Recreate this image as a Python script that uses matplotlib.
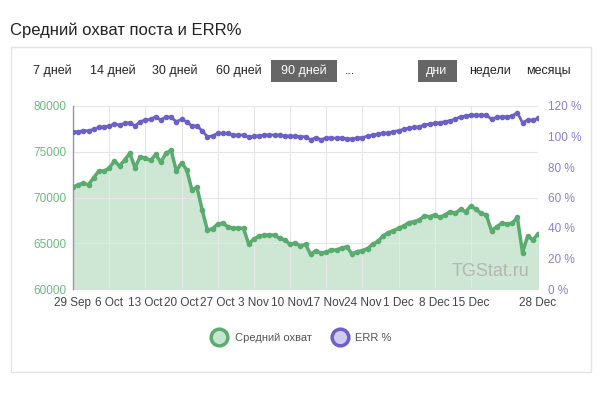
import matplotlib.pyplot as plt
import numpy as np
from matplotlib.patches import Rectangle
from matplotlib.lines import Line2D

plt.rcParams['font.family'] = ['Liberation Sans', 'DejaVu Sans']

# daily values, 29 Sep .. 28 Dec
reach = [71100, 71400, 71550, 71400, 72170, 72900, 72900, 73190, 74000, 73440,
         74100, 74830, 73260, 74460, 74300, 74050, 74700, 73850, 74850, 75150,
         72900, 73780, 73040, 70860, 71100, 68630, 66450, 66580, 67100, 67190,
         66800, 66620, 66670, 66620, 64920, 65470, 65750, 65900, 65900, 65900,
         65520, 65380, 64880, 65030, 64700, 64880, 63780, 64200, 63920, 64020,
         64270, 64270, 64480, 64620, 63840, 64080, 64200, 64420, 64880, 65200,
         65800, 66150, 66370, 66630, 66890, 67250, 67360, 67540, 67980, 67910,
         68090, 67830, 68090, 68450, 68270, 68700, 68450, 69070, 68710, 68270,
         68090, 66370, 66810, 67180, 67100, 67180, 67830, 63970, 65790, 65360,
         66010]
err = [103.2, 103.2, 103.8, 103.8, 104.7, 106.0, 106.4, 106.9, 108.2, 107.5,
       108.6, 109.1, 106.9, 109.7, 110.8, 111.3, 113.0, 110.8, 113.0, 112.6,
       109.7, 111.3, 109.7, 106.9, 106.9, 103.8, 99.9, 100.3, 102.1, 102.1,
       102.1, 101.0, 101.0, 101.0, 99.5, 100.3, 100.3, 101.0, 101.0, 101.0,
       101.0, 100.3, 100.3, 100.3, 100.0, 99.8, 97.9, 99.3, 98.0, 99.0,
       99.2, 98.8, 99.2, 98.5, 98.3, 99.2, 99.2, 100.3, 101.0, 101.5,
       102.1, 102.3, 103.2, 103.8, 104.7, 105.4, 106.0, 106.4, 107.5, 108.2,
       108.6, 109.1, 109.7, 110.4, 111.3, 113.0, 113.4, 114.1, 114.1, 114.1,
       114.1, 111.3, 112.6, 113.0, 113.0, 113.5, 115.6, 109.1, 110.8, 110.8,
       111.9]
tick_days = [0, 7, 14, 21, 28, 35, 42, 49, 56, 63, 70, 77, 90]
tick_labels = ['29 Sep', '6 Oct', '13 Oct', '20 Oct', '27 Oct', '3 Nov', '10 Nov',
               '17 Nov', '24 Nov', '1 Dec', '8 Dec', '15 Dec', '28 Dec']
periods = ['7 дней', '14 дней', '30 дней', '60 дней', '90 дней', '...']
scales = ['дни', 'недели', 'месяцы']

green = '#5aab6e'
purple = '#6b5fc9'
days = np.arange(len(reach))

fig = plt.figure(figsize=(6, 4), dpi=100)
fig.patch.set_facecolor('white')

# card frame (behind everything)
fig.patches.append(Rectangle((11/600, 1-372/400), 580/600, 325/400, transform=fig.transFigure,
                             facecolor='white', edgecolor='#e3e3e3', lw=1, zorder=-10))
fig.text(10/600, 1-30/400, 'Средний охват поста и ERR%', fontsize=12, color='#222222', va='center')

# period buttons
px = [33, 90, 152, 216, 281, 345]
for x, t in zip(px, periods):
    if t == '90 дней':
        fig.patches.append(Rectangle((271/600, 1-82/400), 66/600, 22/400, transform=fig.transFigure,
                                     facecolor='#666666', edgecolor='none', zorder=-5))
        fig.text(x/600, 1-71/400, t, fontsize=9, color='white', va='center')
    else:
        fig.text(x/600, 1-71/400, t, fontsize=9, color='#222222', va='center')
sx = [426, 469, 526]
for x, t in zip(sx, scales):
    if t == 'дни':
        fig.patches.append(Rectangle((418/600, 1-82/400), 39/600, 22/400, transform=fig.transFigure,
                                     facecolor='#666666', edgecolor='none', zorder=-5))
        fig.text(x/600, 1-71/400, t, fontsize=9, color='white', va='center')
    else:
        fig.text(x/600, 1-71/400, t, fontsize=9, color='#222222', va='center')

ax = fig.add_axes([73/600, 1-289/400, 465/600, 183/400])
ax.patch.set_alpha(0)
ax.fill_between(days, reach, 60000, color='#cde7d4', zorder=1)
ax.plot(days, reach, color=green, lw=2.5, marker='o', markersize=3, zorder=3)
ax.set_xlim(0, 90)
ax.set_ylim(60000, 80000)
ax.set_yticks(np.arange(60000, 80001, 5000))
ax.set_xticks(tick_days)
ax.set_xticklabels(tick_labels)
ax.tick_params(axis='x', labelsize=8.5, colors='#444444', length=0, pad=6)
ax.tick_params(axis='y', labelsize=8.5, labelcolor='#6cba80', length=0, pad=5)
ax.grid(True, color='#e6e6e6', lw=0.8, zorder=0)
for s in ['top', 'right', 'bottom']:
    ax.spines[s].set_visible(False)
ax.spines['left'].set_color('#999999')
ax.spines['left'].set_linewidth(1)

ax2 = ax.twinx()
ax2.plot(days, err, color=purple, lw=2, marker='o', markersize=3, zorder=3)
ax2.set_ylim(0, 120)
ax2.set_yticks(np.arange(0, 121, 20))
ax2.set_yticklabels([f'{v} %' for v in range(0, 121, 20)])
ax2.tick_params(axis='y', labelsize=8.5, labelcolor='#8a80d4', length=0, pad=7)
for s in ax2.spines.values():
    s.set_visible(False)

fig.text(529/600, 1-271/400, 'TGStat.ru', fontsize=13, color='#b5b5b5', ha='right', va='center')

handles = [
    Line2D([], [], marker='o', linestyle='none', markersize=12, markerfacecolor='#c8e5d0',
           markeredgecolor=green, markeredgewidth=2.5),
    Line2D([], [], marker='o', linestyle='none', markersize=12, markerfacecolor='#cfcbf0',
           markeredgecolor=purple, markeredgewidth=2.5),
]
fig.legend(handles, ['Средний охват', 'ERR %'], loc='center', bbox_to_anchor=(300/600, 1-338/400),
           ncol=2, frameon=False, fontsize=8, labelcolor='#555555', handletextpad=0.4,
           columnspacing=1.5)

fig.savefig('out.png', dpi=100)
